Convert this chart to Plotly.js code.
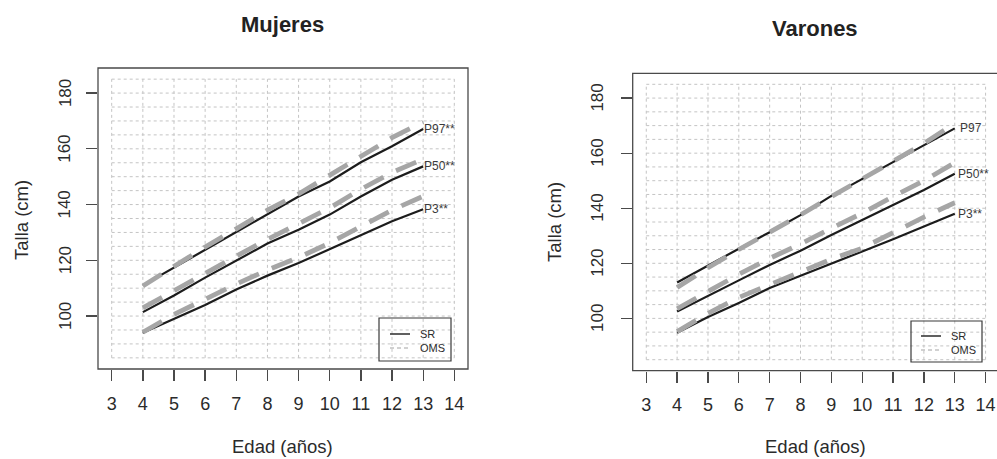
<!DOCTYPE html>
<html><head><meta charset="utf-8">
<script src="https://cdn.plot.ly/plotly-3.0.1.min.js"></script>
<style>html,body{margin:0;padding:0;background:#fff}</style>
</head><body><div id="chart" style="width:997px;height:459px"></div>
<script>
// ---- data ----
const ages = [4, 5, 6, 7, 8, 9, 10, 11, 12, 13];
const xTicks = [3, 4, 5, 6, 7, 8, 9, 10, 11, 12, 13, 14];
const yTicks = [100, 120, 140, 160, 180];
const mujeresSR_P3   = [94.0, 99.0, 104.0, 109.5, 114.5, 119.0, 124.0, 129.0, 134.0, 138.3];
const mujeresSR_P50  = [101.4, 107.4, 113.8, 120.0, 126.0, 131.0, 136.4, 142.9, 148.9, 153.7];
const mujeresSR_P97  = [111.0, 117.4, 123.6, 130.0, 136.6, 142.9, 148.3, 155.2, 160.9, 167.1];
const mujeresOMS_P3  = [94.2, 100.6, 106.0, 111.5, 116.5, 121.0, 126.2, 132.0, 138.0, 143.0];
const mujeresOMS_P50 = [102.9, 109.2, 115.3, 121.5, 127.5, 133.2, 138.8, 145.5, 151.5, 156.3];
const mujeresOMS_P97 = [110.8, 118.0, 124.8, 131.3, 138.0, 143.8, 150.4, 157.3, 164.0, 169.6];
const varonesSR_P3   = [94.8, 100.5, 105.6, 111.0, 115.5, 120.0, 124.3, 128.7, 133.3, 138.0];
const varonesSR_P50  = [102.5, 108.3, 113.8, 119.4, 124.6, 130.3, 135.8, 141.3, 146.6, 152.5];
const varonesSR_P97  = [113.0, 119.3, 125.3, 131.3, 137.5, 144.5, 150.6, 157.0, 162.8, 169.0];
const varonesOMS_P3  = [95.2, 101.8, 107.6, 112.3, 117.0, 121.5, 125.5, 131.2, 136.8, 142.0];
const varonesOMS_P50 = [103.5, 110.0, 116.0, 121.8, 127.0, 132.7, 138.2, 144.2, 150.0, 156.5];
const varonesOMS_P97 = [111.2, 118.4, 125.0, 131.2, 137.6, 144.2, 150.6, 157.0, 163.5, 170.8];
const labelsMujeres = ['P3**', 'P50**', 'P97**'];
const labelsVarones = ['P3**', 'P50**', 'P97'];
const seriesNames = ['SR', 'OMS'];
const titles = ['Mujeres', 'Varones'];
const xTitle = 'Edad (años)';
const yTitle = 'Talla (cm)';

// ---- styling ----
const W = 997, H = 459;
const FONT = 'Liberation Sans, Arial, sans-serif';
const TXT = '#2b2b2b';
const px = x => x / W;
const py = y => 1 - y / H;

const srLine = {color: '#1c1c1c', width: 2.2};
const omsLine = {color: '#a6a6a6', width: 4.8, dash: '22px,14px'};

function mkTraces(xa, ya, sr, oms) {
  const t = [];
  sr.forEach(s => t.push({x: ages, y: s, xaxis: xa, yaxis: ya, type: 'scatter', mode: 'lines',
    name: seriesNames[0], line: srLine, showlegend: false, hoverinfo: 'skip'}));
  oms.forEach(s => t.push({x: ages, y: s, xaxis: xa, yaxis: ya, type: 'scatter', mode: 'lines',
    name: seriesNames[1], line: omsLine, showlegend: false, hoverinfo: 'skip'}));
  return t;
}

const data = [
  ...mkTraces('x', 'y', [mujeresSR_P3, mujeresSR_P50, mujeresSR_P97], [mujeresOMS_P3, mujeresOMS_P50, mujeresOMS_P97]),
  ...mkTraces('x2', 'y2', [varonesSR_P3, varonesSR_P50, varonesSR_P97], [varonesOMS_P3, varonesOMS_P50, varonesOMS_P97])
];

// grid (dotted, inside 3..14 x 85..185)
const gridX = xTicks;
const gridY = [];
for (let v = 85; v <= 185; v += 5) gridY.push(v);
const shapes = [];
function addGrid(xr, yr) {
  const gl = {color: '#c4c4c4', width: 1, dash: 'dot'};
  gridX.forEach(v => shapes.push({type: 'line', xref: xr, yref: yr, x0: v, x1: v, y0: 85, y1: 185, line: gl, layer: 'below'}));
  gridY.forEach(v => shapes.push({type: 'line', xref: xr, yref: yr, x0: 3, x1: 14, y0: v, y1: v, line: gl, layer: 'below'}));
}
addGrid('x', 'y');
addGrid('x2', 'y2');

// plot boxes
const boxLine = {color: '#4a4a4a', width: 1.3};
shapes.push({type: 'rect', xref: 'x domain', yref: 'y domain', x0: 0, x1: 1, y0: 0, y1: 1, line: boxLine});
shapes.push({type: 'rect', xref: 'x2 domain', yref: 'y2 domain', x0: 0, x1: 1.01, y0: 0, y1: 1, line: boxLine});

// legend boxes
const annotations = [];
function addLegend(bx0, by0, bx1, by1, lx0, lx1, tx, y1, y2) {
  shapes.push({type: 'rect', xref: 'paper', yref: 'paper', x0: px(bx0), x1: px(bx1), y0: py(by1), y1: py(by0), line: {color: '#3a3a3a', width: 1.2}});
  shapes.push({type: 'line', xref: 'paper', yref: 'paper', x0: px(lx0), x1: px(lx1), y0: py(y1), y1: py(y1), line: {color: '#1c1c1c', width: 1.4}});
  shapes.push({type: 'line', xref: 'paper', yref: 'paper', x0: px(lx0), x1: px(lx1), y0: py(y2), y1: py(y2), line: {color: '#a4a4a4', width: 1.2, dash: '4px,3px'}});
  annotations.push({xref: 'paper', yref: 'paper', x: px(tx), y: py(y1), text: seriesNames[0], showarrow: false, xanchor: 'left', yanchor: 'middle', font: {family: FONT, size: 11, color: TXT}});
  annotations.push({xref: 'paper', yref: 'paper', x: px(tx), y: py(y2), text: seriesNames[1], showarrow: false, xanchor: 'left', yanchor: 'middle', font: {family: FONT, size: 11, color: TXT}});
}
addLegend(379, 318, 451, 361, 390, 410, 418, 334, 348);
addLegend(911, 321, 982, 362, 921, 941, 949, 336, 350);

// percentile labels at line ends
const endM = [mujeresSR_P3, mujeresSR_P50, mujeresSR_P97].map(s => s[s.length - 1]);
const endV = [varonesSR_P3, varonesSR_P50, varonesSR_P97].map(s => s[s.length - 1]);
labelsMujeres.forEach((t, i) => annotations.push({xref: 'x', yref: 'y', x: ages[ages.length - 1], y: endM[i], text: t, showarrow: false, xanchor: 'left', yanchor: 'middle', xshift: -1, font: {family: FONT, size: 12, color: '#3a3a3a'}}));
labelsVarones.forEach((t, i) => annotations.push({xref: 'x2', yref: 'y2', x: ages[ages.length - 1], y: endV[i], text: t, showarrow: false, xanchor: 'left', yanchor: 'middle', xshift: i === 2 ? 3 : 1, font: {family: FONT, size: 12, color: '#3a3a3a'}}));

// y tick labels (rotated, R style)
yTicks.forEach(v => {
  annotations.push({xref: 'paper', yref: 'y', x: px(65), y: v, text: String(v), showarrow: false, textangle: -90, xanchor: 'center', yanchor: 'middle', font: {family: FONT, size: 17, color: TXT}});
  annotations.push({xref: 'paper', yref: 'y2', x: px(597.5), y: v, text: String(v), showarrow: false, textangle: -90, xanchor: 'center', yanchor: 'middle', font: {family: FONT, size: 17, color: TXT}});
});

// titles
annotations.push({xref: 'paper', yref: 'paper', x: px(282), y: py(24), text: '<b>' + titles[0] + '</b>', showarrow: false, xanchor: 'center', yanchor: 'middle', font: {family: FONT, size: 22, color: '#222'}});
annotations.push({xref: 'paper', yref: 'paper', x: px(815), y: py(29), text: '<b>' + titles[1] + '</b>', showarrow: false, xanchor: 'center', yanchor: 'middle', font: {family: FONT, size: 22, color: '#222'}});
// axis titles
annotations.push({xref: 'paper', yref: 'paper', x: px(282), y: 0, text: xTitle, showarrow: false, xanchor: 'center', yanchor: 'bottom', font: {family: FONT, size: 18.5, color: TXT}});
annotations.push({xref: 'paper', yref: 'paper', x: px(815), y: 0, text: xTitle, showarrow: false, xanchor: 'center', yanchor: 'bottom', font: {family: FONT, size: 18.5, color: TXT}});
annotations.push({xref: 'paper', yref: 'paper', x: px(21), y: py(220), text: yTitle, showarrow: false, textangle: -90, xanchor: 'center', yanchor: 'middle', font: {family: FONT, size: 18.5, color: TXT}});
annotations.push({xref: 'paper', yref: 'paper', x: px(554), y: py(222), text: yTitle, showarrow: false, textangle: -90, xanchor: 'center', yanchor: 'middle', font: {family: FONT, size: 18.5, color: TXT}});

const xCommon = {tickmode: 'array', tickvals: xTicks, ticktext: xTicks.map(String), showgrid: false, zeroline: false,
  ticks: 'outside', ticklen: 11, tickwidth: 1.3, tickcolor: '#4a4a4a', showline: false,
  tickfont: {family: FONT, size: 18, color: TXT}, ticklabelstandoff: 7, fixedrange: true};
const yCommon = {tickmode: 'array', tickvals: yTicks, showticklabels: false, showgrid: false, zeroline: false,
  ticks: 'outside', ticklen: 11, tickwidth: 1.3, tickcolor: '#4a4a4a', showline: false,
  range: [81, 189], fixedrange: true};

const layout = {
  width: W, height: H,
  margin: {l: 0, r: 0, t: 0, b: 0},
  paper_bgcolor: '#fff', plot_bgcolor: '#fff',
  showlegend: false,
  xaxis: Object.assign({}, xCommon, {domain: [px(98), px(468)], range: [2.56, 14.44], anchor: 'y'}),
  yaxis: Object.assign({}, yCommon, {domain: [py(369), py(68)], anchor: 'x'}),
  xaxis2: Object.assign({}, xCommon, {domain: [px(632.7), 1], range: [2.56, 14.37], anchor: 'y2'}),
  yaxis2: Object.assign({}, yCommon, {domain: [py(370.7), py(73.3)], anchor: 'x2'}),
  shapes: shapes,
  annotations: annotations
};

Plotly.newPlot('chart', data, layout, {staticPlot: true, displayModeBar: false});
</script>
</body></html>
